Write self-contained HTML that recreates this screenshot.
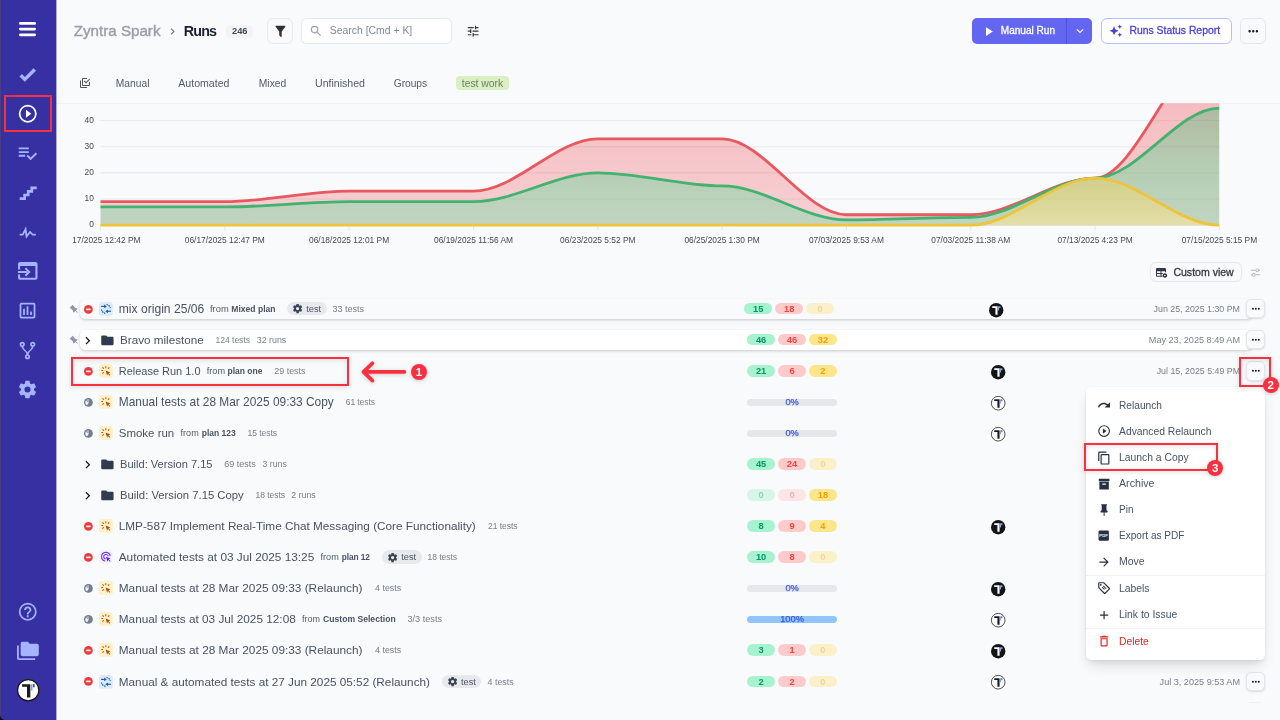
<!DOCTYPE html>
<html lang="en"><head><meta charset="utf-8"><title>Runs - Zyntra Spark</title>
<style>
html,body{margin:0;padding:0}
body{width:1280px;height:720px;overflow:hidden;position:relative;background:#f9fafb;font-family:"Liberation Sans",sans-serif;color:#374151}
.t{position:absolute;white-space:nowrap}
svg{display:block;overflow:visible}
</style></head><body>
<div style="position:absolute;left:0.00px;top:0.00px;width:56.00px;height:720.00px;box-sizing:border-box;background:#3730a3;"></div>
<div style="position:absolute;left:0.00px;top:0.00px;width:1.00px;height:720.00px;box-sizing:border-box;background:#453f88;"></div>
<svg style="position:absolute;left:0;top:714px" width="6" height="6" viewBox="0 0 6 6"><path d="M0,0.6V6H5.4A5.4,5.4 0 0,1 0,0.6Z" fill="#0b0b0d"/></svg>
<svg style="position:absolute;left:19.1px;top:22.3px" width="17" height="15" viewBox="0 0 17 15"><g fill="#fff"><rect x="0" y="0" width="17" height="2.75" rx="1.37"/><rect x="0" y="5.7" width="17" height="2.75" rx="1.37"/><rect x="0" y="11.4" width="17" height="2.75" rx="1.37"/></g></svg>
<svg style="position:absolute;left:17.20px;top:64.00px;" width="21.00" height="21.00" viewBox="0 0 24 24"><path fill="#a5b4fc" d="M9,20.42L2.79,14.21L5.62,11.38L9,14.77L18.88,4.88L21.71,7.71L9,20.42Z"/></svg>
<svg style="position:absolute;left:16.95px;top:102.75px;" width="21.50" height="21.50" viewBox="0 0 24 24"><path fill="#fff" d="M12,20C7.59,20 4,16.41 4,12C4,7.59 7.59,4 12,4C16.41,4 20,7.59 20,12C20,16.41 16.41,20 12,20M12,2A10,10 0 0,0 2,12A10,10 0 0,0 12,22A10,10 0 0,0 22,12A10,10 0 0,0 12,2M10,16.5L16,12L10,7.5V16.5Z"/></svg>
<svg style="position:absolute;left:16.20px;top:142.20px;" width="22.00" height="22.00" viewBox="0 0 24 24"><path fill="#a5b4fc" d="M14,10H3V12H14V10M14,6H3V8H14V6M3,16H10V14H3V16M21.5,11.5L23,13L16,20L11.5,15.5L13,14L16,17L21.5,11.5Z"/></svg>
<svg style="position:absolute;left:16.75px;top:182.25px;" width="21.50" height="21.50" viewBox="0 0 24 24"><path fill="#a5b4fc" d="M15,5V9H11V13H7V17H3V20H10V16H14V12H18V8H22V5H15Z"/></svg>
<svg style="position:absolute;left:16.75px;top:221.75px;" width="21.50" height="21.50" viewBox="0 0 24 24"><path fill="#a5b4fc" d="M3,13H5.79L10.1,4.79L11.28,13.75L14.5,9.66L17.83,13H21V15H17L14.67,12.67L9.92,18.73L8.94,11.31L7,15H3V13Z"/></svg>
<svg style="position:absolute;left:17.7px;top:262.2px" width="19.5" height="17.8" viewBox="0 0 19.5 17.8"><path fill="#a5b4fc" d="M2,0H17.5A2,2 0 0,1 19.5,2V15.8A2,2 0 0,1 17.5,17.8H2A2,2 0 0,1 0,15.8V12.4H2.1V15.7H17.4V4H2.1V7.4H0V2A2,2 0 0,1 2,0Z M0,8.9H9.5V10.9H0Z"/><path fill="none" stroke="#a5b4fc" stroke-width="2" d="M7.4,6.1L11.2,9.9L7.4,13.7"/></svg>
<svg style="position:absolute;left:17.00px;top:300.10px;" width="21.00" height="21.00" viewBox="0 0 24 24"><path fill="#a5b4fc" d="M9,17H7V10H9V17M13,17H11V7H13V17M17,17H15V13H17V17M19,19H5V5H19V19.1M19,3H5A2,2 0 0,0 3,5V19A2,2 0 0,0 5,21H19A2,2 0 0,0 21,19V5A2,2 0 0,0 19,3Z"/></svg>
<svg style="position:absolute;left:17.00px;top:339.50px;" width="21.00" height="21.00" viewBox="0 0 24 24"><path fill="#a5b4fc" d="M6,2A3,3 0 0,1 9,5C9,6.28 8.19,7.38 7.06,7.81C7.15,8.27 7.39,8.83 8,9.63C9,10.92 11,12.83 12,14.17C13,12.83 15,10.92 16,9.63C16.61,8.83 16.85,8.27 16.94,7.81C15.81,7.38 15,6.28 15,5A3,3 0 0,1 18,2A3,3 0 0,1 21,5C21,6.32 20.14,7.45 18.95,7.85C18.87,8.37 18.64,9 18,9.83C17,11.17 15,13.08 14,14.38C13.39,15.17 13.15,15.73 13.06,16.19C14.19,16.62 15,17.72 15,19A3,3 0 0,1 12,22A3,3 0 0,1 9,19C9,17.72 9.81,16.62 10.94,16.19C10.85,15.73 10.61,15.17 10,14.38C9,13.08 7,11.17 6,9.83C5.36,9 5.13,8.37 5.05,7.85C3.86,7.45 3,6.32 3,5A3,3 0 0,1 6,2M6,4A1,1 0 0,0 5,5A1,1 0 0,0 6,6A1,1 0 0,0 7,5A1,1 0 0,0 6,4M18,4A1,1 0 0,0 17,5A1,1 0 0,0 18,6A1,1 0 0,0 19,5A1,1 0 0,0 18,4M12,18A1,1 0 0,0 11,19A1,1 0 0,0 12,20A1,1 0 0,0 13,19A1,1 0 0,0 12,18Z"/></svg>
<svg style="position:absolute;left:17.20px;top:378.80px;" width="21.00" height="21.00" viewBox="0 0 24 24"><path fill="#a5b4fc" d="M12,15.5A3.5,3.5 0 0,1 8.5,12A3.5,3.5 0 0,1 12,8.5A3.5,3.5 0 0,1 15.5,12A3.5,3.5 0 0,1 12,15.5M19.43,12.97C19.47,12.65 19.5,12.33 19.5,12C19.5,11.67 19.47,11.34 19.43,11L21.54,9.37C21.73,9.22 21.78,8.95 21.66,8.73L19.66,5.27C19.54,5.05 19.27,4.96 19.05,5.05L16.56,6.05C16.04,5.66 15.5,5.32 14.87,5.07L14.5,2.42C14.46,2.18 14.25,2 14,2H10C9.75,2 9.54,2.18 9.5,2.42L9.13,5.07C8.5,5.32 7.96,5.66 7.44,6.05L4.95,5.05C4.73,4.96 4.46,5.05 4.34,5.27L2.34,8.73C2.21,8.95 2.27,9.22 2.46,9.37L4.57,11C4.53,11.34 4.5,11.67 4.5,12C4.5,12.33 4.53,12.65 4.57,12.97L2.46,14.63C2.27,14.78 2.21,15.05 2.34,15.27L4.34,18.73C4.46,18.95 4.73,19.03 4.95,18.95L7.44,17.94C7.96,18.34 8.5,18.68 9.13,18.93L9.5,21.58C9.54,21.82 9.75,22 10,22H14C14.25,22 14.46,21.82 14.5,21.58L14.87,18.93C15.5,18.67 16.04,18.34 16.56,17.94L19.05,18.95C19.27,19.03 19.54,18.95 19.66,18.73L21.66,15.27C21.78,15.05 21.73,14.78 21.54,14.63L19.43,12.97Z"/></svg>
<svg style="position:absolute;left:16.75px;top:601.25px;" width="21.50" height="21.50" viewBox="0 0 24 24"><path fill="#a5b4fc" d="M11,18H13V16H11V18M12,2A10,10 0 0,0 2,12A10,10 0 0,0 12,22A10,10 0 0,0 22,12A10,10 0 0,0 12,2M12,20C7.59,20 4,16.41 4,12C4,7.59 7.59,4 12,4C16.41,4 20,7.59 20,12C20,16.41 16.41,20 12,20M12,6A4,4 0 0,0 8,10H10A2,2 0 0,1 12,8A2,2 0 0,1 14,10C14,12 11,11.75 11,15H13C13,12.75 16,12.5 16,10A4,4 0 0,0 12,6Z"/></svg>
<svg style="position:absolute;left:16.60px;top:640.10px;" width="21.80" height="21.80" viewBox="0 0 24 24"><path fill="#a5b4fc" d="M22,4H14L12,2H6A2,2 0 0,0 4,4V16A2,2 0 0,0 6,18H22A2,2 0 0,0 24,16V6A2,2 0 0,0 22,4M2,6H0V11H0V20A2,2 0 0,0 2,22H20V20H2V6Z"/></svg>
<svg style="position:absolute;left:17.10px;top:679.20px" width="22.40" height="22.40" viewBox="0 0 24 24"><circle cx="12" cy="12" r="11.40" fill="#fff" stroke="#141414" stroke-width="1.25"/><path fill="#1c1c1c" d="M5.4,5.6H14.3V19.8H10.7V8.4H5.4Z"/><path fill="#7da7f5" d="M14.8,5.6H16.7V12.4H14.8Z"/><path fill="#1c1c1c" d="M17.4,5.6H18.8V8.8H17.4Z"/></svg>
<div style="position:absolute;left:3.50px;top:95.20px;width:48.50px;height:36.70px;box-sizing:border-box;border:2.1px solid #f8303f;"></div>
<span class="t" style="left:73.75px;top:18px;line-height:25px;height:25px;font-size:15.17px;font-weight:400;color:#999fab;letter-spacing:-0.001px;-webkit-text-stroke-width:.4px;">Zyntra Spark</span>
<svg style="position:absolute;left:165.50px;top:24.80px;" width="13.00" height="13.00" viewBox="0 0 24 24"><path fill="#6b7280" d="M8.59,16.58L13.17,12L8.59,7.41L10,6L16,12L10,18L8.59,16.58Z"/></svg>
<span class="t" style="left:183.75px;top:19px;line-height:24px;height:24px;font-size:14.30px;font-weight:700;color:#1a2130;letter-spacing:-0.833px;">Runs</span>
<div style="position:absolute;left:226.00px;top:24.50px;width:27.00px;height:13.00px;box-sizing:border-box;background:#f3f4f6;border-radius:4px;"></div>
<span class="t" style="left:232.00px;top:22px;line-height:18px;height:18px;font-size:9.29px;font-weight:700;color:#3f4858;letter-spacing:0.000px;">246</span>
<div style="position:absolute;left:267.30px;top:18.10px;width:25.30px;height:25.70px;box-sizing:border-box;background:#fafafa;border:1px solid #e9eaed;border-radius:6px;"></div>
<svg style="position:absolute;left:272.50px;top:23.75px;" width="14.90" height="14.90" viewBox="0 0 24 24"><path fill="#2f3136" d="M14,12V19.88C14.04,20.18 13.94,20.5 13.71,20.71C13.32,21.1 12.69,21.1 12.3,20.71L10.29,18.7C10.06,18.47 9.96,18.16 10,17.87V12H9.97L4.21,4.62C3.87,4.19 3.95,3.56 4.38,3.22C4.57,3.08 4.78,3 5,3H19C19.22,3 19.43,3.08 19.62,3.22C20.05,3.56 20.13,4.19 19.79,4.62L14.03,12H14Z"/></svg>
<div style="position:absolute;left:301.10px;top:18.20px;width:150.60px;height:25.80px;box-sizing:border-box;background:#fff;border:1px solid #e6e8ec;border-radius:5.5px;"></div>
<svg style="position:absolute;left:309.30px;top:23.95px;" width="14.10" height="14.10" viewBox="0 0 24 24"><path fill="#9ca3af" d="M9.5,3A6.5,6.5 0 0,1 16,9.5C16,11.11 15.41,12.59 14.44,13.73L14.71,14H15.5L20.5,19L19,20.5L14,15.5V14.71L13.73,14.44C12.59,15.41 11.11,16 9.5,16A6.5,6.5 0 0,1 3,9.5A6.5,6.5 0 0,1 9.5,3M9.5,5C7,5 5,7 5,9.5C5,12 7,14 9.5,14C12,14 14,12 14,9.5C14,7 12,5 9.5,5Z"/></svg>
<span class="t" style="left:329.75px;top:21px;line-height:19px;height:19px;font-size:10.42px;font-weight:400;color:#808796;letter-spacing:0.005px;">Search [Cmd + K]</span>
<svg style="position:absolute;left:465.60px;top:24.05px;" width="14.30" height="14.30" viewBox="0 0 24 24"><path fill="#333539" d="M3,17V19H9V17H3M3,5V7H13V5H3M13,21V19H21V17H13V15H11V21H13M7,9V11H3V13H7V15H9V9H7M21,13V11H11V13H21M15,9H17V7H21V5H17V3H15V9Z"/></svg>
<div style="position:absolute;left:971.80px;top:18.30px;width:120.70px;height:25.50px;box-sizing:border-box;background:#6366f1;border-radius:5px;"></div>
<div style="position:absolute;left:1066.00px;top:18.30px;width:1.00px;height:25.50px;box-sizing:border-box;background:#4f51d8;"></div>
<svg style="position:absolute;left:980.80px;top:23.70px;" width="15.00" height="15.00" viewBox="0 0 24 24"><path fill="#fff" d="M8,5.14V19.14L19,12.14L8,5.14Z"/></svg>
<span class="t" style="left:1000.75px;top:21px;line-height:19px;height:19px;font-size:10.06px;font-weight:400;color:#fff;letter-spacing:0.007px;-webkit-text-stroke-width:.3px;">Manual Run</span>
<svg style="position:absolute;left:1072.80px;top:24.30px;" width="14.00" height="14.00" viewBox="0 0 24 24"><path fill="#fff" d="M7.41,8.58L12,13.17L16.59,8.58L18,10L12,16L6,10L7.41,8.58Z"/></svg>
<div style="position:absolute;left:1100.50px;top:18.30px;width:131.30px;height:25.50px;box-sizing:border-box;background:#fff;border:1px solid #b9bff9;border-radius:6px;"></div>
<svg style="position:absolute;left:1109.40px;top:24.40px;" width="13.60" height="13.60" viewBox="0 0 24 24"><path fill="#4a42d6" d="M19,1L17.74,3.75L15,5L17.74,6.26L19,9L20.25,6.26L23,5L20.25,3.75M9,4L6.5,9.5L1,12L6.5,14.5L9,20L11.5,14.5L17,12L11.5,9.5M19,15L17.74,17.74L15,19L17.74,20.25L19,23L20.25,20.25L23,19L20.25,17.74"/></svg>
<span class="t" style="left:1129.50px;top:21px;line-height:19px;height:19px;font-size:10.37px;font-weight:400;color:#4a42d6;letter-spacing:0.006px;-webkit-text-stroke-width:.3px;">Runs Status Report</span>
<div style="position:absolute;left:1240.00px;top:18.30px;width:25.50px;height:25.50px;box-sizing:border-box;background:#f9fafb;border:1px solid #e5e7eb;border-radius:6px;"></div>
<svg style="position:absolute;left:1245.65px;top:23.95px;" width="14.50" height="14.50" viewBox="0 0 24 24"><path fill="#16191f" d="M16,12A2,2 0 0,1 18,10A2,2 0 0,1 20,12A2,2 0 0,1 18,14A2,2 0 0,1 16,12M10,12A2,2 0 0,1 12,10A2,2 0 0,1 14,12A2,2 0 0,1 12,14A2,2 0 0,1 10,12M4,12A2,2 0 0,1 6,10A2,2 0 0,1 8,12A2,2 0 0,1 6,14A2,2 0 0,1 4,12Z"/></svg>
<svg style="position:absolute;left:78.90px;top:77.35px;" width="12.00" height="12.00" viewBox="0 0 24 24"><path fill="#50555d" d="M20,16V10H22V16A2,2 0 0,1 20,18H8C6.89,18 6,17.1 6,16V4C6,2.89 6.89,2 8,2H16V4H8V16H20M10.91,7.08L14,10.17L20.59,3.58L22,5L14,13L9.5,8.5L10.91,7.08M16,20V22H4A2,2 0 0,1 2,20V7H4V20H16Z"/></svg>
<span class="t" style="left:115.75px;top:74px;line-height:19px;height:19px;font-size:10.29px;font-weight:400;color:#515b6a;letter-spacing:0.003px;">Manual</span>
<span class="t" style="left:178.25px;top:73px;line-height:20px;height:20px;font-size:10.60px;font-weight:400;color:#515b6a;letter-spacing:0.000px;">Automated</span>
<span class="t" style="left:258.75px;top:74px;line-height:19px;height:19px;font-size:10.31px;font-weight:400;color:#515b6a;letter-spacing:0.008px;">Mixed</span>
<span class="t" style="left:315.00px;top:73px;line-height:20px;height:20px;font-size:10.58px;font-weight:400;color:#515b6a;letter-spacing:0.002px;">Unfinished</span>
<span class="t" style="left:393.75px;top:74px;line-height:19px;height:19px;font-size:10.23px;font-weight:400;color:#515b6a;letter-spacing:-0.053px;">Groups</span>
<div style="position:absolute;left:455.75px;top:76.20px;width:53.00px;height:14.30px;box-sizing:border-box;background:#d9f0c3;border-radius:4px;"></div>
<span class="t" style="left:461.75px;top:74px;line-height:19px;height:19px;font-size:10.37px;font-weight:400;color:#6e7f68;letter-spacing:0.006px;">test work</span>
<div style="position:absolute;left:56.00px;top:103.00px;width:1224.00px;height:1.00px;box-sizing:border-box;background:#f1f2f4;"></div>
<svg style="position:absolute;left:0;top:100px" width="1280" height="155" viewBox="0 100 1280 155"><defs><linearGradient id="gr" gradientUnits="userSpaceOnUse" x1="0" y1="100" x2="0" y2="226"><stop offset="0" stop-color="#ee4650" stop-opacity=".345"/><stop offset="1" stop-color="#ee4650" stop-opacity=".23"/></linearGradient><linearGradient id="gg" gradientUnits="userSpaceOnUse" x1="0" y1="108" x2="0" y2="226"><stop offset="0" stop-color="#41b36f" stop-opacity=".38"/><stop offset=".5" stop-color="#55d791" stop-opacity=".40"/><stop offset="1" stop-color="#6fdca5" stop-opacity=".40"/></linearGradient><linearGradient id="gy" gradientUnits="userSpaceOnUse" x1="0" y1="178" x2="0" y2="226"><stop offset="0" stop-color="#ffd246" stop-opacity=".36"/><stop offset="1" stop-color="#ffe696" stop-opacity=".55"/></linearGradient><clipPath id="cc"><rect x="96" y="103.3" width="1123.5" height="124"/></clipPath></defs><line x1="100.5" x2="1219.4" y1="225.20" y2="225.20" stroke="#e7e9ec" stroke-width="1"/><line x1="100.5" x2="1219.4" y1="199.05" y2="199.05" stroke="#e7e9ec" stroke-width="1"/><line x1="100.5" x2="1219.4" y1="172.90" y2="172.90" stroke="#e7e9ec" stroke-width="1"/><line x1="100.5" x2="1219.4" y1="146.75" y2="146.75" stroke="#e7e9ec" stroke-width="1"/><line x1="100.5" x2="1219.4" y1="120.60" y2="120.60" stroke="#e7e9ec" stroke-width="1"/><line x1="100.5" x2="100.5" y1="226" y2="230.5" stroke="#e3e5e8" stroke-width="1"/><line x1="224.8" x2="224.8" y1="226" y2="230.5" stroke="#e3e5e8" stroke-width="1"/><line x1="349.1" x2="349.1" y1="226" y2="230.5" stroke="#e3e5e8" stroke-width="1"/><line x1="473.5" x2="473.5" y1="226" y2="230.5" stroke="#e3e5e8" stroke-width="1"/><line x1="597.8" x2="597.8" y1="226" y2="230.5" stroke="#e3e5e8" stroke-width="1"/><line x1="722.1" x2="722.1" y1="226" y2="230.5" stroke="#e3e5e8" stroke-width="1"/><line x1="846.4" x2="846.4" y1="226" y2="230.5" stroke="#e3e5e8" stroke-width="1"/><line x1="970.8" x2="970.8" y1="226" y2="230.5" stroke="#e3e5e8" stroke-width="1"/><line x1="1095.1" x2="1095.1" y1="226" y2="230.5" stroke="#e3e5e8" stroke-width="1"/><line x1="1219.4" x2="1219.4" y1="226" y2="230.5" stroke="#e3e5e8" stroke-width="1"/><g clip-path="url(#cc)"><path d="M100.50,201.66 C141.94,201.66 183.38,201.66 224.82,201.66 C266.26,201.66 307.70,191.20 349.14,191.20 C390.59,191.20 432.03,191.20 473.47,191.20 C514.91,191.20 556.35,138.90 597.79,138.90 C639.23,138.90 680.67,138.90 722.11,138.90 C763.55,138.90 804.99,214.74 846.43,214.74 C887.87,214.74 929.31,214.74 970.76,214.74 C1012.20,214.74 1053.64,178.13 1095.08,178.13 C1136.52,178.13 1177.96,44.76 1219.40,44.76 L1219.40,225.2 L100.50,225.2 Z" fill="url(#gr)"/><path d="M100.50,201.66 C141.94,201.66 183.38,201.66 224.82,201.66 C266.26,201.66 307.70,191.20 349.14,191.20 C390.59,191.20 432.03,191.20 473.47,191.20 C514.91,191.20 556.35,138.90 597.79,138.90 C639.23,138.90 680.67,138.90 722.11,138.90 C763.55,138.90 804.99,214.74 846.43,214.74 C887.87,214.74 929.31,214.74 970.76,214.74 C1012.20,214.74 1053.64,178.13 1095.08,178.13 C1136.52,178.13 1177.96,44.76 1219.40,44.76" fill="none" stroke="#e65a5f" stroke-width="2.8" stroke-linecap="butt"/><path d="M100.50,206.89 C141.94,206.89 183.38,206.89 224.82,206.89 C266.26,206.89 307.70,201.66 349.14,201.66 C390.59,201.66 432.03,201.66 473.47,201.66 C514.91,201.66 556.35,172.90 597.79,172.90 C639.23,172.90 680.67,185.97 722.11,185.97 C763.55,185.97 804.99,219.97 846.43,219.97 C887.87,219.97 929.31,217.35 970.76,217.35 C1012.20,217.35 1053.64,178.13 1095.08,178.13 C1136.52,178.13 1177.96,108.05 1219.40,108.05 L1219.40,225.2 L100.50,225.2 Z" fill="url(#gg)"/><path d="M100.50,206.89 C141.94,206.89 183.38,206.89 224.82,206.89 C266.26,206.89 307.70,201.66 349.14,201.66 C390.59,201.66 432.03,201.66 473.47,201.66 C514.91,201.66 556.35,172.90 597.79,172.90 C639.23,172.90 680.67,185.97 722.11,185.97 C763.55,185.97 804.99,219.97 846.43,219.97 C887.87,219.97 929.31,217.35 970.76,217.35 C1012.20,217.35 1053.64,178.13 1095.08,178.13 C1136.52,178.13 1177.96,108.05 1219.40,108.05" fill="none" stroke="#41b36f" stroke-width="2.8" stroke-linecap="butt"/><path d="M100.50,225.20 C141.94,225.20 183.38,225.20 224.82,225.20 C266.26,225.20 307.70,225.20 349.14,225.20 C390.59,225.20 432.03,225.20 473.47,225.20 C514.91,225.20 556.35,225.20 597.79,225.20 C639.23,225.20 680.67,225.20 722.11,225.20 C763.55,225.20 804.99,225.20 846.43,225.20 C887.87,225.20 929.31,225.20 970.76,225.20 C1012.20,225.20 1053.64,178.13 1095.08,178.13 C1136.52,178.13 1177.96,225.20 1219.40,225.20 L1219.40,225.2 L100.50,225.2 Z" fill="url(#gy)"/><path d="M100.50,225.20 C141.94,225.20 183.38,225.20 224.82,225.20 C266.26,225.20 307.70,225.20 349.14,225.20 C390.59,225.20 432.03,225.20 473.47,225.20 C514.91,225.20 556.35,225.20 597.79,225.20 C639.23,225.20 680.67,225.20 722.11,225.20 C763.55,225.20 804.99,225.20 846.43,225.20 C887.87,225.20 929.31,225.20 970.76,225.20 C1012.20,225.20 1053.64,178.13 1095.08,178.13 C1136.52,178.13 1177.96,225.20 1219.40,225.20" fill="none" stroke="#efc43c" stroke-width="2.8" stroke-linecap="butt"/></g><g font-family="Liberation Sans, sans-serif" font-size="8.4" fill="#464b4e"><text x="93.8" y="227" text-anchor="end">0</text><text x="93.8" y="201" text-anchor="end">10</text><text x="93.8" y="175" text-anchor="end">20</text><text x="93.8" y="149" text-anchor="end">30</text><text x="93.8" y="123" text-anchor="end">40</text><text x="100.5" y="243.2" text-anchor="middle">06/17/2025 12:42 PM</text><text x="224.8" y="243.2" text-anchor="middle">06/17/2025 12:47 PM</text><text x="349.1" y="243.2" text-anchor="middle">06/18/2025 12:01 PM</text><text x="473.5" y="243.2" text-anchor="middle">06/19/2025 11:56 AM</text><text x="597.8" y="243.2" text-anchor="middle">06/23/2025 5:52 PM</text><text x="722.1" y="243.2" text-anchor="middle">06/25/2025 1:30 PM</text><text x="846.4" y="243.2" text-anchor="middle">07/03/2025 9:53 AM</text><text x="970.8" y="243.2" text-anchor="middle">07/03/2025 11:38 AM</text><text x="1095.1" y="243.2" text-anchor="middle">07/13/2025 4:23 PM</text><text x="1219.4" y="243.2" text-anchor="middle">07/15/2025 5:15 PM</text></g></svg>
<div style="position:absolute;left:56.00px;top:232.00px;width:16.50px;height:18.00px;box-sizing:border-box;background:#f9fafb;"></div>
<div style="position:absolute;left:1150.40px;top:262.00px;width:92.10px;height:20.00px;box-sizing:border-box;background:#f9fafb;border:1px solid #e5e7eb;border-radius:6px;"></div>
<svg style="position:absolute;left:1156.2px;top:267.7px" width="11.2" height="9.8" viewBox="0 0 22.4 19.6"><path fill="#303846" fill-rule="evenodd" d="M2,0H18A2,2 0 0,1 20,2V8.5H18V6.5H11V10H13.5V12H11V15.5H13V17.5H2A2,2 0 0,1 0,15.5V2A2,2 0 0,1 2,0ZM2,6.5V10H9V6.5ZM2,12V15.5H9V12Z"/><circle cx="17.8" cy="15" r="4.5" fill="#303846"/><circle cx="17.8" cy="15" r="1.5" fill="#f9fafb"/></svg>
<span class="t" style="left:1173.40px;top:262px;line-height:20px;height:20px;font-size:10.55px;font-weight:400;color:#333b47;letter-spacing:-0.003px;-webkit-text-stroke-width:.3px;">Custom view</span>
<svg style="position:absolute;left:1250.10px;top:266.70px;" width="11.00" height="11.00" viewBox="0 0 24 24"><path fill="#b4b9c1" d="M8 13C6.14 13 4.59 14.28 4.14 16H2V18H4.14C4.59 19.72 6.14 21 8 21S11.41 19.72 11.86 18H22V16H11.86C11.41 14.28 9.86 13 8 13M8 19C6.9 19 6 18.1 6 17C6 15.9 6.9 15 8 15S10 15.9 10 17C10 18.1 9.1 19 8 19M19.86 6C19.41 4.28 17.86 3 16 3S12.59 4.28 12.14 6H2V8H12.14C12.59 9.72 14.14 11 16 11S19.41 9.72 19.86 8H22V6H19.86M16 9C14.9 9 14 8.1 14 7C14 5.9 14.9 5 16 5S18 5.9 18 7C18 8.1 17.1 9 16 9Z"/></svg>
<div style="position:absolute;left:80.00px;top:299.30px;width:1172.00px;height:19.70px;box-sizing:border-box;background:#f9fafb;border-radius:5px;box-shadow:0 1px 2.5px rgba(0,0,0,.13),0 2px 4px -1px rgba(0,0,0,.08);"></div>
<div style="position:absolute;left:80.00px;top:330.00px;width:1172.00px;height:19.60px;box-sizing:border-box;background:#fff;border-radius:5px;box-shadow:0 1px 2.5px rgba(0,0,0,.13),0 2px 4px -1px rgba(0,0,0,.08);"></div>
<svg style="position:absolute;left:68.50px;top:303.50px;transform:rotate(-45deg);" width="10.80" height="10.80" viewBox="0 0 24 24"><path fill="#8d97a9" d="M16,12V4H17V2H7V4H8V12L6,14V16H11.2V22H12.8V16H18V14L16,12Z"/></svg><svg style="position:absolute;left:83.50px;top:304.50px" width="8.8" height="8.8" viewBox="0 0 20 20"><circle cx="10" cy="10" r="10" fill="#ec3b40"/><rect x="4.6" y="8.1" width="10.8" height="3.8" rx="1" fill="#fde3e3"/></svg><svg style="position:absolute;left:98.70px;top:302.00px" width="13.8" height="13.8" viewBox="0 0 14 14"><rect width="14" height="14" rx="3.2" fill="#dbeafd"/><g stroke="#1d5ea8" stroke-width="1.15" fill="none" stroke-linecap="butt"><path d="M2.1,4.5H6.4"/><path d="M12.2,9.4H7.9"/><path d="M7.6,2.5A4.6,4.6 0 0,1 11.5,6.3" stroke-dasharray="1.5 .8"/><path d="M6.6,11.4A4.6,4.6 0 0,1 2.5,7.6" stroke-dasharray="1.5 .8"/></g><path fill="#1d5ea8" d="M5.2,2.6L7.9,4.5L5.2,6.4Z M9.1,7.5L6.4,9.4L9.1,11.3Z"/></svg><span class="t" style="left:118.75px;top:298px;line-height:22px;height:22px;font-size:12.09px;font-weight:400;color:#485264;letter-spacing:0.016px;">mix origin 25/06</span><span class="t" style="left:210.00px;top:299px;line-height:19px;height:19px;font-size:9.39px;font-weight:400;color:#515b6a;letter-spacing:0.000px;">from</span><span class="t" style="left:231.25px;top:300px;line-height:18px;height:18px;font-size:8.56px;font-weight:700;color:#485264;letter-spacing:0.009px;">Mixed plan</span><div style="position:absolute;left:287.00px;top:302.10px;width:39.50px;height:13.30px;box-sizing:border-box;background:#e7e9ed;border-radius:7px;"></div><svg style="position:absolute;left:292.30px;top:303.30px;" width="11.20" height="11.20" viewBox="0 0 24 24"><path fill="#3a4352" d="M12,15.5A3.5,3.5 0 0,1 8.5,12A3.5,3.5 0 0,1 12,8.5A3.5,3.5 0 0,1 15.5,12A3.5,3.5 0 0,1 12,15.5M19.43,12.97C19.47,12.65 19.5,12.33 19.5,12C19.5,11.67 19.47,11.34 19.43,11L21.54,9.37C21.73,9.22 21.78,8.95 21.66,8.73L19.66,5.27C19.54,5.05 19.27,4.96 19.05,5.05L16.56,6.05C16.04,5.66 15.5,5.32 14.87,5.07L14.5,2.42C14.46,2.18 14.25,2 14,2H10C9.75,2 9.54,2.18 9.5,2.42L9.13,5.07C8.5,5.32 7.96,5.66 7.44,6.05L4.95,5.05C4.73,4.96 4.46,5.05 4.34,5.27L2.34,8.73C2.21,8.95 2.27,9.22 2.46,9.37L4.57,11C4.53,11.34 4.5,11.67 4.5,12C4.5,12.33 4.53,12.65 4.57,12.97L2.46,14.63C2.27,14.78 2.21,15.05 2.34,15.27L4.34,18.73C4.46,18.95 4.73,19.03 4.95,18.95L7.44,17.94C7.96,18.34 8.5,18.68 9.13,18.93L9.5,21.58C9.54,21.82 9.75,22 10,22H14C14.25,22 14.46,21.82 14.5,21.58L14.87,18.93C15.5,18.67 16.04,18.34 16.56,17.94L19.05,18.95C19.27,19.03 19.54,18.95 19.66,18.73L21.66,15.27C21.78,15.05 21.73,14.78 21.54,14.63L19.43,12.97Z"/></svg><span class="t" style="left:306.25px;top:300px;line-height:18px;height:18px;font-size:9.22px;font-weight:400;color:#4b5563;letter-spacing:-0.003px;">test</span><span class="t" style="left:332.50px;top:300px;line-height:18px;height:18px;font-size:9.00px;font-weight:400;color:#78808e;letter-spacing:-0.004px;">33 tests</span><div style="position:absolute;left:744.20px;top:303.00px;width:28.20px;height:11.40px;box-sizing:border-box;background:#a7f3d0;border-radius:6px;"><span style="position:absolute;left:0;right:0;top:-4.3px;line-height:20px;text-align:center;font-size:9.3px;font-weight:700;color:#059669;">15</span></div><div style="position:absolute;left:775.10px;top:303.00px;width:28.20px;height:11.40px;box-sizing:border-box;background:#fecaca;border-radius:6px;"><span style="position:absolute;left:0;right:0;top:-4.3px;line-height:20px;text-align:center;font-size:9.3px;font-weight:700;color:#ef4444;">18</span></div><div style="position:absolute;left:806.00px;top:303.00px;width:28.20px;height:11.40px;box-sizing:border-box;background:#fde68a;border-radius:6px;opacity:.42;"><span style="position:absolute;left:0;right:0;top:-4.3px;line-height:20px;text-align:center;font-size:9.3px;font-weight:700;color:#f59e0b;">0</span></div><svg style="position:absolute;left:988.50px;top:302.50px" width="14.40" height="14.40" viewBox="0 0 24 24"><circle cx="12" cy="12" r="12.00" fill="#141414" /><path fill="#fff" d="M5.4,5.6H14.3V19.8H10.7V8.4H5.4Z"/><path fill="#7da7f5" d="M14.8,5.6H16.7V12.4H14.8Z"/><path fill="#fff" d="M17.4,5.6H18.8V8.8H17.4Z"/></svg><span class="t" style="left:1153.60px;top:300px;line-height:18px;height:18px;font-size:8.83px;font-weight:400;color:#78808e;letter-spacing:0.000px;">Jun 25, 2025 1:30 PM</span><div style="position:absolute;left:1245.50px;top:299.00px;width:19.80px;height:19.30px;box-sizing:border-box;background:#f9fafb;border:1px solid #e4e6ea;border-radius:5px;box-shadow:0 1px 2.5px rgba(0,0,0,.09),0 1px 1.5px rgba(0,0,0,.04);"></div><svg style="position:absolute;left:1249.60px;top:302.95px;" width="11.70" height="11.70" viewBox="0 0 24 24"><path fill="#16191f" d="M16,12A2,2 0 0,1 18,10A2,2 0 0,1 20,12A2,2 0 0,1 18,14A2,2 0 0,1 16,12M10,12A2,2 0 0,1 12,10A2,2 0 0,1 14,12A2,2 0 0,1 12,14A2,2 0 0,1 10,12M4,12A2,2 0 0,1 6,10A2,2 0 0,1 8,12A2,2 0 0,1 6,14A2,2 0 0,1 4,12Z"/></svg>
<svg style="position:absolute;left:68.50px;top:334.50px;transform:rotate(-45deg);" width="10.80" height="10.80" viewBox="0 0 24 24"><path fill="#8d97a9" d="M16,12V4H17V2H7V4H8V12L6,14V16H11.2V22H12.8V16H18V14L16,12Z"/></svg><svg style="position:absolute;left:79.90px;top:333.00px;" width="15.40" height="15.40" viewBox="0 0 24 24"><path fill="#15181e" d="M8.59,16.58L13.17,12L8.59,7.41L10,6L16,12L10,18L8.59,16.58Z"/></svg><svg style="position:absolute;left:99.60px;top:332.60px;" width="14.80" height="14.80" viewBox="0 0 24 24"><path fill="#323c50" d="M10,4H4C2.89,4 2,4.89 2,6V18A2,2 0 0,0 4,20H20A2,2 0 0,0 22,18V8C22,6.89 21.1,6 20,6H12L10,4Z"/></svg><span class="t" style="left:120.00px;top:329px;line-height:21px;height:21px;font-size:11.68px;font-weight:400;color:#485264;letter-spacing:0.004px;">Bravo milestone</span><span class="t" style="left:215.50px;top:331px;line-height:18px;height:18px;font-size:8.56px;font-weight:400;color:#78808e;letter-spacing:-0.023px;">124 tests</span><span class="t" style="left:256.75px;top:331px;line-height:18px;height:18px;font-size:8.85px;font-weight:400;color:#78808e;letter-spacing:0.000px;">32 runs</span><div style="position:absolute;left:747.00px;top:334.00px;width:28.20px;height:11.40px;box-sizing:border-box;background:#a7f3d0;border-radius:6px;"><span style="position:absolute;left:0;right:0;top:-4.3px;line-height:20px;text-align:center;font-size:9.3px;font-weight:700;color:#059669;">46</span></div><div style="position:absolute;left:777.90px;top:334.00px;width:28.20px;height:11.40px;box-sizing:border-box;background:#fecaca;border-radius:6px;"><span style="position:absolute;left:0;right:0;top:-4.3px;line-height:20px;text-align:center;font-size:9.3px;font-weight:700;color:#ef4444;">46</span></div><div style="position:absolute;left:808.80px;top:334.00px;width:28.20px;height:11.40px;box-sizing:border-box;background:#fde68a;border-radius:6px;"><span style="position:absolute;left:0;right:0;top:-4.3px;line-height:20px;text-align:center;font-size:9.3px;font-weight:700;color:#f59e0b;">32</span></div><span class="t" style="left:1148.80px;top:331px;line-height:18px;height:18px;font-size:9.11px;font-weight:400;color:#78808e;letter-spacing:0.011px;">May 23, 2025 8:49 AM</span><div style="position:absolute;left:1245.50px;top:330.00px;width:19.80px;height:19.30px;box-sizing:border-box;background:#f9fafb;border:1px solid #e4e6ea;border-radius:5px;box-shadow:0 1px 2.5px rgba(0,0,0,.09),0 1px 1.5px rgba(0,0,0,.04);"></div><svg style="position:absolute;left:1249.60px;top:333.95px;" width="11.70" height="11.70" viewBox="0 0 24 24"><path fill="#16191f" d="M16,12A2,2 0 0,1 18,10A2,2 0 0,1 20,12A2,2 0 0,1 18,14A2,2 0 0,1 16,12M10,12A2,2 0 0,1 12,10A2,2 0 0,1 14,12A2,2 0 0,1 12,14A2,2 0 0,1 10,12M4,12A2,2 0 0,1 6,10A2,2 0 0,1 8,12A2,2 0 0,1 6,14A2,2 0 0,1 4,12Z"/></svg>
<svg style="position:absolute;left:83.50px;top:366.80px" width="8.8" height="8.8" viewBox="0 0 20 20"><circle cx="10" cy="10" r="10" fill="#ec3b40"/><rect x="4.6" y="8.1" width="10.8" height="3.8" rx="1" fill="#fde3e3"/></svg><svg style="position:absolute;left:98.70px;top:364.30px" width="13.8" height="13.8" viewBox="0 0 14 14"><rect width="14" height="14" rx="3.2" fill="#fef0c7"/><g stroke="#c4580e" stroke-width="1.05" stroke-linecap="round" fill="none"><path d="M3.8,3.6L4.7,4.5M6.9,2.6V3.7M10.1,3.7L9.4,4.5M2.7,6.5H3.8M3.7,9.5L4.6,8.7"/></g><path fill="#b4470a" d="M6.7,6.6L11.5,8.6L9.6,9.4L11.4,11.2L10.8,11.8L9,10L8.3,11.9Z"/></svg><span class="t" style="left:118.75px;top:361px;line-height:20px;height:20px;font-size:10.98px;font-weight:400;color:#485264;letter-spacing:0.002px;">Release Run 1.0</span><span class="t" style="left:206.75px;top:362px;line-height:18px;height:18px;font-size:9.14px;font-weight:400;color:#515b6a;letter-spacing:0.000px;">from</span><span class="t" style="left:227.50px;top:362px;line-height:18px;height:18px;font-size:8.51px;font-weight:700;color:#485264;letter-spacing:0.007px;">plan one</span><span class="t" style="left:274.25px;top:362px;line-height:18px;height:18px;font-size:8.93px;font-weight:400;color:#78808e;letter-spacing:0.000px;">29 tests</span><div style="position:absolute;left:747.00px;top:365.30px;width:28.20px;height:11.40px;box-sizing:border-box;background:#a7f3d0;border-radius:6px;"><span style="position:absolute;left:0;right:0;top:-4.3px;line-height:20px;text-align:center;font-size:9.3px;font-weight:700;color:#059669;">21</span></div><div style="position:absolute;left:777.90px;top:365.30px;width:28.20px;height:11.40px;box-sizing:border-box;background:#fecaca;border-radius:6px;"><span style="position:absolute;left:0;right:0;top:-4.3px;line-height:20px;text-align:center;font-size:9.3px;font-weight:700;color:#ef4444;">6</span></div><div style="position:absolute;left:808.80px;top:365.30px;width:28.20px;height:11.40px;box-sizing:border-box;background:#fde68a;border-radius:6px;"><span style="position:absolute;left:0;right:0;top:-4.3px;line-height:20px;text-align:center;font-size:9.3px;font-weight:700;color:#f59e0b;">2</span></div><svg style="position:absolute;left:991.30px;top:364.80px" width="14.40" height="14.40" viewBox="0 0 24 24"><circle cx="12" cy="12" r="12.00" fill="#141414" /><path fill="#fff" d="M5.4,5.6H14.3V19.8H10.7V8.4H5.4Z"/><path fill="#7da7f5" d="M14.8,5.6H16.7V12.4H14.8Z"/><path fill="#fff" d="M17.4,5.6H18.8V8.8H17.4Z"/></svg><span class="t" style="left:1156.70px;top:362px;line-height:18px;height:18px;font-size:8.81px;font-weight:400;color:#78808e;letter-spacing:0.008px;">Jul 15, 2025 5:49 PM</span><div style="position:absolute;left:1245.50px;top:361.30px;width:19.80px;height:19.30px;box-sizing:border-box;background:#f9fafb;border:1px solid #e4e6ea;border-radius:5px;box-shadow:0 1px 2.5px rgba(0,0,0,.09),0 1px 1.5px rgba(0,0,0,.04);"></div><svg style="position:absolute;left:1249.60px;top:365.25px;" width="11.70" height="11.70" viewBox="0 0 24 24"><path fill="#16191f" d="M16,12A2,2 0 0,1 18,10A2,2 0 0,1 20,12A2,2 0 0,1 18,14A2,2 0 0,1 16,12M10,12A2,2 0 0,1 12,10A2,2 0 0,1 14,12A2,2 0 0,1 12,14A2,2 0 0,1 10,12M4,12A2,2 0 0,1 6,10A2,2 0 0,1 8,12A2,2 0 0,1 6,14A2,2 0 0,1 4,12Z"/></svg>
<svg style="position:absolute;left:83.50px;top:397.80px" width="8.8" height="8.8" viewBox="0 0 24 24"><circle cx="12" cy="12" r="12" fill="#747c8e"/><path d="M13.6,12.4L5,7.2A8.6,8.6 0 0,0 8.2,19.6Z" fill="#f1f2f5"/><path d="M13.6,12.4L5,7.2A8.6,8.6 0 0,1 13.6,3.8Z" fill="#aeb4c0"/></svg><svg style="position:absolute;left:98.70px;top:395.30px" width="13.8" height="13.8" viewBox="0 0 14 14"><rect width="14" height="14" rx="3.2" fill="#fef0c7"/><g stroke="#c4580e" stroke-width="1.05" stroke-linecap="round" fill="none"><path d="M3.8,3.6L4.7,4.5M6.9,2.6V3.7M10.1,3.7L9.4,4.5M2.7,6.5H3.8M3.7,9.5L4.6,8.7"/></g><path fill="#b4470a" d="M6.7,6.6L11.5,8.6L9.6,9.4L11.4,11.2L10.8,11.8L9,10L8.3,11.9Z"/></svg><span class="t" style="left:118.75px;top:391px;line-height:22px;height:22px;font-size:11.90px;font-weight:400;color:#485264;letter-spacing:0.005px;">Manual tests at 28 Mar 2025 09:33 Copy</span><span class="t" style="left:345.75px;top:393px;line-height:18px;height:18px;font-size:8.56px;font-weight:400;color:#78808e;letter-spacing:-0.098px;">61 tests</span><div style="position:absolute;left:747.00px;top:398.50px;width:90.20px;height:7.00px;box-sizing:border-box;background:#e5e7eb;border-radius:4px;"><span style="position:absolute;left:0;right:0;top:-6.8px;line-height:20px;text-align:center;font-size:9.3px;font-weight:400;color:#3a59d9;-webkit-text-stroke-width:.25px;">0%</span></div><svg style="position:absolute;left:991.30px;top:395.80px" width="14.40" height="14.40" viewBox="0 0 24 24"><circle cx="12" cy="12" r="11.40" fill="#fff" stroke="#141414" stroke-width="1.25"/><path fill="#1c1c1c" d="M5.4,5.6H14.3V19.8H10.7V8.4H5.4Z"/><path fill="#7da7f5" d="M14.8,5.6H16.7V12.4H14.8Z"/><path fill="#1c1c1c" d="M17.4,5.6H18.8V8.8H17.4Z"/></svg>
<svg style="position:absolute;left:83.50px;top:428.80px" width="8.8" height="8.8" viewBox="0 0 24 24"><circle cx="12" cy="12" r="12" fill="#747c8e"/><path d="M13.6,12.4L5,7.2A8.6,8.6 0 0,0 8.2,19.6Z" fill="#f1f2f5"/><path d="M13.6,12.4L5,7.2A8.6,8.6 0 0,1 13.6,3.8Z" fill="#aeb4c0"/></svg><svg style="position:absolute;left:98.70px;top:426.30px" width="13.8" height="13.8" viewBox="0 0 14 14"><rect width="14" height="14" rx="3.2" fill="#fef0c7"/><g stroke="#c4580e" stroke-width="1.05" stroke-linecap="round" fill="none"><path d="M3.8,3.6L4.7,4.5M6.9,2.6V3.7M10.1,3.7L9.4,4.5M2.7,6.5H3.8M3.7,9.5L4.6,8.7"/></g><path fill="#b4470a" d="M6.7,6.6L11.5,8.6L9.6,9.4L11.4,11.2L10.8,11.8L9,10L8.3,11.9Z"/></svg><span class="t" style="left:118.75px;top:423px;line-height:20px;height:20px;font-size:11.48px;font-weight:400;color:#485264;letter-spacing:0.004px;">Smoke run</span><span class="t" style="left:180.50px;top:424px;line-height:18px;height:18px;font-size:9.14px;font-weight:400;color:#515b6a;letter-spacing:0.000px;">from</span><span class="t" style="left:201.75px;top:424px;line-height:18px;height:18px;font-size:8.49px;font-weight:700;color:#485264;letter-spacing:0.004px;">plan 123</span><span class="t" style="left:247.50px;top:424px;line-height:18px;height:18px;font-size:8.56px;font-weight:400;color:#78808e;letter-spacing:-0.062px;">15 tests</span><div style="position:absolute;left:747.00px;top:429.50px;width:90.20px;height:7.00px;box-sizing:border-box;background:#e5e7eb;border-radius:4px;"><span style="position:absolute;left:0;right:0;top:-6.8px;line-height:20px;text-align:center;font-size:9.3px;font-weight:400;color:#3a59d9;-webkit-text-stroke-width:.25px;">0%</span></div><svg style="position:absolute;left:991.30px;top:426.80px" width="14.40" height="14.40" viewBox="0 0 24 24"><circle cx="12" cy="12" r="11.40" fill="#fff" stroke="#141414" stroke-width="1.25"/><path fill="#1c1c1c" d="M5.4,5.6H14.3V19.8H10.7V8.4H5.4Z"/><path fill="#7da7f5" d="M14.8,5.6H16.7V12.4H14.8Z"/><path fill="#1c1c1c" d="M17.4,5.6H18.8V8.8H17.4Z"/></svg>
<svg style="position:absolute;left:79.90px;top:457.30px;" width="15.40" height="15.40" viewBox="0 0 24 24"><path fill="#15181e" d="M8.59,16.58L13.17,12L8.59,7.41L10,6L16,12L10,18L8.59,16.58Z"/></svg><svg style="position:absolute;left:99.60px;top:456.90px;" width="14.80" height="14.80" viewBox="0 0 24 24"><path fill="#323c50" d="M10,4H4C2.89,4 2,4.89 2,6V18A2,2 0 0,0 4,20H20A2,2 0 0,0 22,18V8C22,6.89 21.1,6 20,6H12L10,4Z"/></svg><span class="t" style="left:120.00px;top:454px;line-height:20px;height:20px;font-size:11.10px;font-weight:400;color:#485264;letter-spacing:-0.001px;">Build: Version 7.15</span><span class="t" style="left:224.25px;top:455px;line-height:18px;height:18px;font-size:9.00px;font-weight:400;color:#78808e;letter-spacing:-0.004px;">69 tests</span><span class="t" style="left:262.50px;top:455px;line-height:18px;height:18px;font-size:8.73px;font-weight:400;color:#78808e;letter-spacing:0.003px;">3 runs</span><div style="position:absolute;left:747.00px;top:458.30px;width:28.20px;height:11.40px;box-sizing:border-box;background:#a7f3d0;border-radius:6px;"><span style="position:absolute;left:0;right:0;top:-4.3px;line-height:20px;text-align:center;font-size:9.3px;font-weight:700;color:#059669;">45</span></div><div style="position:absolute;left:777.90px;top:458.30px;width:28.20px;height:11.40px;box-sizing:border-box;background:#fecaca;border-radius:6px;"><span style="position:absolute;left:0;right:0;top:-4.3px;line-height:20px;text-align:center;font-size:9.3px;font-weight:700;color:#ef4444;">24</span></div><div style="position:absolute;left:808.80px;top:458.30px;width:28.20px;height:11.40px;box-sizing:border-box;background:#fde68a;border-radius:6px;opacity:.42;"><span style="position:absolute;left:0;right:0;top:-4.3px;line-height:20px;text-align:center;font-size:9.3px;font-weight:700;color:#f59e0b;">0</span></div>
<svg style="position:absolute;left:79.90px;top:488.30px;" width="15.40" height="15.40" viewBox="0 0 24 24"><path fill="#15181e" d="M8.59,16.58L13.17,12L8.59,7.41L10,6L16,12L10,18L8.59,16.58Z"/></svg><svg style="position:absolute;left:99.60px;top:487.90px;" width="14.80" height="14.80" viewBox="0 0 24 24"><path fill="#323c50" d="M10,4H4C2.89,4 2,4.89 2,6V18A2,2 0 0,0 4,20H20A2,2 0 0,0 22,18V8C22,6.89 21.1,6 20,6H12L10,4Z"/></svg><span class="t" style="left:120.00px;top:485px;line-height:20px;height:20px;font-size:11.30px;font-weight:400;color:#485264;letter-spacing:0.001px;">Build: Version 7.15 Copy</span><span class="t" style="left:255.50px;top:486px;line-height:18px;height:18px;font-size:8.56px;font-weight:400;color:#78808e;letter-spacing:-0.062px;">18 tests</span><span class="t" style="left:291.25px;top:486px;line-height:18px;height:18px;font-size:8.82px;font-weight:400;color:#78808e;letter-spacing:0.000px;">2 runs</span><div style="position:absolute;left:747.00px;top:489.30px;width:28.20px;height:11.40px;box-sizing:border-box;background:#a7f3d0;border-radius:6px;opacity:.42;"><span style="position:absolute;left:0;right:0;top:-4.3px;line-height:20px;text-align:center;font-size:9.3px;font-weight:700;color:#059669;">0</span></div><div style="position:absolute;left:777.90px;top:489.30px;width:28.20px;height:11.40px;box-sizing:border-box;background:#fecaca;border-radius:6px;opacity:.42;"><span style="position:absolute;left:0;right:0;top:-4.3px;line-height:20px;text-align:center;font-size:9.3px;font-weight:700;color:#ef4444;">0</span></div><div style="position:absolute;left:808.80px;top:489.30px;width:28.20px;height:11.40px;box-sizing:border-box;background:#fde68a;border-radius:6px;"><span style="position:absolute;left:0;right:0;top:-4.3px;line-height:20px;text-align:center;font-size:9.3px;font-weight:700;color:#f59e0b;">18</span></div>
<svg style="position:absolute;left:83.50px;top:521.80px" width="8.8" height="8.8" viewBox="0 0 20 20"><circle cx="10" cy="10" r="10" fill="#ec3b40"/><rect x="4.6" y="8.1" width="10.8" height="3.8" rx="1" fill="#fde3e3"/></svg><svg style="position:absolute;left:98.70px;top:519.30px" width="13.8" height="13.8" viewBox="0 0 14 14"><rect width="14" height="14" rx="3.2" fill="#fef0c7"/><g stroke="#c4580e" stroke-width="1.05" stroke-linecap="round" fill="none"><path d="M3.8,3.6L4.7,4.5M6.9,2.6V3.7M10.1,3.7L9.4,4.5M2.7,6.5H3.8M3.7,9.5L4.6,8.7"/></g><path fill="#b4470a" d="M6.7,6.6L11.5,8.6L9.6,9.4L11.4,11.2L10.8,11.8L9,10L8.3,11.9Z"/></svg><span class="t" style="left:118.75px;top:515px;line-height:21px;height:21px;font-size:11.76px;font-weight:400;color:#485264;letter-spacing:0.004px;">LMP-587 Implement Real-Time Chat Messaging (Core Functionality)</span><span class="t" style="left:488.00px;top:517px;line-height:18px;height:18px;font-size:8.56px;font-weight:400;color:#78808e;letter-spacing:-0.062px;">21 tests</span><div style="position:absolute;left:747.00px;top:520.30px;width:28.20px;height:11.40px;box-sizing:border-box;background:#a7f3d0;border-radius:6px;"><span style="position:absolute;left:0;right:0;top:-4.3px;line-height:20px;text-align:center;font-size:9.3px;font-weight:700;color:#059669;">8</span></div><div style="position:absolute;left:777.90px;top:520.30px;width:28.20px;height:11.40px;box-sizing:border-box;background:#fecaca;border-radius:6px;"><span style="position:absolute;left:0;right:0;top:-4.3px;line-height:20px;text-align:center;font-size:9.3px;font-weight:700;color:#ef4444;">9</span></div><div style="position:absolute;left:808.80px;top:520.30px;width:28.20px;height:11.40px;box-sizing:border-box;background:#fde68a;border-radius:6px;"><span style="position:absolute;left:0;right:0;top:-4.3px;line-height:20px;text-align:center;font-size:9.3px;font-weight:700;color:#f59e0b;">4</span></div><svg style="position:absolute;left:991.30px;top:519.80px" width="14.40" height="14.40" viewBox="0 0 24 24"><circle cx="12" cy="12" r="12.00" fill="#141414" /><path fill="#fff" d="M5.4,5.6H14.3V19.8H10.7V8.4H5.4Z"/><path fill="#7da7f5" d="M14.8,5.6H16.7V12.4H14.8Z"/><path fill="#fff" d="M17.4,5.6H18.8V8.8H17.4Z"/></svg>
<svg style="position:absolute;left:83.50px;top:552.80px" width="8.8" height="8.8" viewBox="0 0 20 20"><circle cx="10" cy="10" r="10" fill="#ec3b40"/><rect x="4.6" y="8.1" width="10.8" height="3.8" rx="1" fill="#fde3e3"/></svg><svg style="position:absolute;left:98.70px;top:550.30px" width="13.8" height="13.8" viewBox="0 0 14 14"><rect width="14" height="14" rx="3.2" fill="#f4f1ff"/><g stroke="#7a3ce8" stroke-width="1.15" fill="none" stroke-linecap="round"><path d="M11.3,5.8A4.4,4.4 0 1,0 6.2,11.1"/><path d="M9.2,6A2.3,2.3 0 1,0 6.3,9"/></g><path fill="#5b21d6" d="M7.1,6.8L11.7,8.6L9.9,9.4L11.7,11.2L11.1,11.8L9.3,10L8.6,11.8Z"/></svg><span class="t" style="left:118.75px;top:546px;line-height:22px;height:22px;font-size:11.80px;font-weight:400;color:#485264;letter-spacing:0.001px;">Automated tests at 03 Jul 2025 13:25</span><span class="t" style="left:320.50px;top:548px;line-height:18px;height:18px;font-size:9.14px;font-weight:400;color:#515b6a;letter-spacing:0.000px;">from</span><span class="t" style="left:341.75px;top:548px;line-height:18px;height:18px;font-size:8.37px;font-weight:700;color:#485264;letter-spacing:-0.094px;">plan 12</span><div style="position:absolute;left:382.00px;top:550.40px;width:39.75px;height:13.30px;box-sizing:border-box;background:#e7e9ed;border-radius:7px;"></div><svg style="position:absolute;left:387.30px;top:551.60px;" width="11.20" height="11.20" viewBox="0 0 24 24"><path fill="#3a4352" d="M12,15.5A3.5,3.5 0 0,1 8.5,12A3.5,3.5 0 0,1 12,8.5A3.5,3.5 0 0,1 15.5,12A3.5,3.5 0 0,1 12,15.5M19.43,12.97C19.47,12.65 19.5,12.33 19.5,12C19.5,11.67 19.47,11.34 19.43,11L21.54,9.37C21.73,9.22 21.78,8.95 21.66,8.73L19.66,5.27C19.54,5.05 19.27,4.96 19.05,5.05L16.56,6.05C16.04,5.66 15.5,5.32 14.87,5.07L14.5,2.42C14.46,2.18 14.25,2 14,2H10C9.75,2 9.54,2.18 9.5,2.42L9.13,5.07C8.5,5.32 7.96,5.66 7.44,6.05L4.95,5.05C4.73,4.96 4.46,5.05 4.34,5.27L2.34,8.73C2.21,8.95 2.27,9.22 2.46,9.37L4.57,11C4.53,11.34 4.5,11.67 4.5,12C4.5,12.33 4.53,12.65 4.57,12.97L2.46,14.63C2.27,14.78 2.21,15.05 2.34,15.27L4.34,18.73C4.46,18.95 4.73,19.03 4.95,18.95L7.44,17.94C7.96,18.34 8.5,18.68 9.13,18.93L9.5,21.58C9.54,21.82 9.75,22 10,22H14C14.25,22 14.46,21.82 14.5,21.58L14.87,18.93C15.5,18.67 16.04,18.34 16.56,17.94L19.05,18.95C19.27,19.03 19.54,18.95 19.66,18.73L21.66,15.27C21.78,15.05 21.73,14.78 21.54,14.63L19.43,12.97Z"/></svg><span class="t" style="left:401.25px;top:548px;line-height:18px;height:18px;font-size:9.22px;font-weight:400;color:#4b5563;letter-spacing:-0.003px;">test</span><span class="t" style="left:427.50px;top:548px;line-height:18px;height:18px;font-size:8.56px;font-weight:400;color:#78808e;letter-spacing:-0.062px;">18 tests</span><div style="position:absolute;left:747.00px;top:551.30px;width:28.20px;height:11.40px;box-sizing:border-box;background:#a7f3d0;border-radius:6px;"><span style="position:absolute;left:0;right:0;top:-4.3px;line-height:20px;text-align:center;font-size:9.3px;font-weight:700;color:#059669;">10</span></div><div style="position:absolute;left:777.90px;top:551.30px;width:28.20px;height:11.40px;box-sizing:border-box;background:#fecaca;border-radius:6px;"><span style="position:absolute;left:0;right:0;top:-4.3px;line-height:20px;text-align:center;font-size:9.3px;font-weight:700;color:#ef4444;">8</span></div><div style="position:absolute;left:808.80px;top:551.30px;width:28.20px;height:11.40px;box-sizing:border-box;background:#fde68a;border-radius:6px;opacity:.42;"><span style="position:absolute;left:0;right:0;top:-4.3px;line-height:20px;text-align:center;font-size:9.3px;font-weight:700;color:#f59e0b;">0</span></div>
<svg style="position:absolute;left:83.50px;top:583.80px" width="8.8" height="8.8" viewBox="0 0 24 24"><circle cx="12" cy="12" r="12" fill="#747c8e"/><path d="M13.6,12.4L5,7.2A8.6,8.6 0 0,0 8.2,19.6Z" fill="#f1f2f5"/><path d="M13.6,12.4L5,7.2A8.6,8.6 0 0,1 13.6,3.8Z" fill="#aeb4c0"/></svg><svg style="position:absolute;left:98.70px;top:581.30px" width="13.8" height="13.8" viewBox="0 0 14 14"><rect width="14" height="14" rx="3.2" fill="#fef0c7"/><g stroke="#c4580e" stroke-width="1.05" stroke-linecap="round" fill="none"><path d="M3.8,3.6L4.7,4.5M6.9,2.6V3.7M10.1,3.7L9.4,4.5M2.7,6.5H3.8M3.7,9.5L4.6,8.7"/></g><path fill="#b4470a" d="M6.7,6.6L11.5,8.6L9.6,9.4L11.4,11.2L10.8,11.8L9,10L8.3,11.9Z"/></svg><span class="t" style="left:118.75px;top:577px;line-height:22px;height:22px;font-size:11.82px;font-weight:400;color:#485264;letter-spacing:0.003px;">Manual tests at 28 Mar 2025 09:33 (Relaunch)</span><span class="t" style="left:375.00px;top:579px;line-height:18px;height:18px;font-size:8.92px;font-weight:400;color:#78808e;letter-spacing:0.000px;">4 tests</span><div style="position:absolute;left:747.00px;top:584.50px;width:90.20px;height:7.00px;box-sizing:border-box;background:#e5e7eb;border-radius:4px;"><span style="position:absolute;left:0;right:0;top:-6.8px;line-height:20px;text-align:center;font-size:9.3px;font-weight:400;color:#3a59d9;-webkit-text-stroke-width:.25px;">0%</span></div><svg style="position:absolute;left:991.30px;top:581.80px" width="14.40" height="14.40" viewBox="0 0 24 24"><circle cx="12" cy="12" r="12.00" fill="#141414" /><path fill="#fff" d="M5.4,5.6H14.3V19.8H10.7V8.4H5.4Z"/><path fill="#7da7f5" d="M14.8,5.6H16.7V12.4H14.8Z"/><path fill="#fff" d="M17.4,5.6H18.8V8.8H17.4Z"/></svg>
<svg style="position:absolute;left:83.50px;top:614.80px" width="8.8" height="8.8" viewBox="0 0 24 24"><circle cx="12" cy="12" r="12" fill="#747c8e"/><path d="M13.6,12.4L5,7.2A8.6,8.6 0 0,0 8.2,19.6Z" fill="#f1f2f5"/><path d="M13.6,12.4L5,7.2A8.6,8.6 0 0,1 13.6,3.8Z" fill="#aeb4c0"/></svg><svg style="position:absolute;left:98.70px;top:612.30px" width="13.8" height="13.8" viewBox="0 0 14 14"><rect width="14" height="14" rx="3.2" fill="#fef0c7"/><g stroke="#c4580e" stroke-width="1.05" stroke-linecap="round" fill="none"><path d="M3.8,3.6L4.7,4.5M6.9,2.6V3.7M10.1,3.7L9.4,4.5M2.7,6.5H3.8M3.7,9.5L4.6,8.7"/></g><path fill="#b4470a" d="M6.7,6.6L11.5,8.6L9.6,9.4L11.4,11.2L10.8,11.8L9,10L8.3,11.9Z"/></svg><span class="t" style="left:118.75px;top:608px;line-height:21px;height:21px;font-size:11.79px;font-weight:400;color:#485264;letter-spacing:0.005px;">Manual tests at 03 Jul 2025 12:08</span><span class="t" style="left:302.00px;top:610px;line-height:18px;height:18px;font-size:9.01px;font-weight:400;color:#515b6a;letter-spacing:0.000px;">from</span><span class="t" style="left:323.00px;top:610px;line-height:18px;height:18px;font-size:8.61px;font-weight:700;color:#485264;letter-spacing:0.010px;">Custom Selection</span><span class="t" style="left:407.50px;top:610px;line-height:18px;height:18px;font-size:9.14px;font-weight:400;color:#78808e;letter-spacing:0.000px;">3/3 tests</span><div style="position:absolute;left:747.00px;top:615.50px;width:90.20px;height:7.00px;box-sizing:border-box;background:#93c5fd;border-radius:4px;"><span style="position:absolute;left:0;right:0;top:-6.8px;line-height:20px;text-align:center;font-size:9.3px;font-weight:400;color:#3a59d9;-webkit-text-stroke-width:.25px;">100%</span></div><svg style="position:absolute;left:991.30px;top:612.80px" width="14.40" height="14.40" viewBox="0 0 24 24"><circle cx="12" cy="12" r="11.40" fill="#fff" stroke="#141414" stroke-width="1.25"/><path fill="#1c1c1c" d="M5.4,5.6H14.3V19.8H10.7V8.4H5.4Z"/><path fill="#7da7f5" d="M14.8,5.6H16.7V12.4H14.8Z"/><path fill="#1c1c1c" d="M17.4,5.6H18.8V8.8H17.4Z"/></svg>
<svg style="position:absolute;left:83.50px;top:645.80px" width="8.8" height="8.8" viewBox="0 0 20 20"><circle cx="10" cy="10" r="10" fill="#ec3b40"/><rect x="4.6" y="8.1" width="10.8" height="3.8" rx="1" fill="#fde3e3"/></svg><svg style="position:absolute;left:98.70px;top:643.30px" width="13.8" height="13.8" viewBox="0 0 14 14"><rect width="14" height="14" rx="3.2" fill="#fef0c7"/><g stroke="#c4580e" stroke-width="1.05" stroke-linecap="round" fill="none"><path d="M3.8,3.6L4.7,4.5M6.9,2.6V3.7M10.1,3.7L9.4,4.5M2.7,6.5H3.8M3.7,9.5L4.6,8.7"/></g><path fill="#b4470a" d="M6.7,6.6L11.5,8.6L9.6,9.4L11.4,11.2L10.8,11.8L9,10L8.3,11.9Z"/></svg><span class="t" style="left:118.75px;top:639px;line-height:22px;height:22px;font-size:11.82px;font-weight:400;color:#485264;letter-spacing:0.003px;">Manual tests at 28 Mar 2025 09:33 (Relaunch)</span><span class="t" style="left:375.00px;top:641px;line-height:18px;height:18px;font-size:8.92px;font-weight:400;color:#78808e;letter-spacing:0.000px;">4 tests</span><div style="position:absolute;left:747.00px;top:644.30px;width:28.20px;height:11.40px;box-sizing:border-box;background:#a7f3d0;border-radius:6px;"><span style="position:absolute;left:0;right:0;top:-4.3px;line-height:20px;text-align:center;font-size:9.3px;font-weight:700;color:#059669;">3</span></div><div style="position:absolute;left:777.90px;top:644.30px;width:28.20px;height:11.40px;box-sizing:border-box;background:#fecaca;border-radius:6px;"><span style="position:absolute;left:0;right:0;top:-4.3px;line-height:20px;text-align:center;font-size:9.3px;font-weight:700;color:#ef4444;">1</span></div><div style="position:absolute;left:808.80px;top:644.30px;width:28.20px;height:11.40px;box-sizing:border-box;background:#fde68a;border-radius:6px;opacity:.42;"><span style="position:absolute;left:0;right:0;top:-4.3px;line-height:20px;text-align:center;font-size:9.3px;font-weight:700;color:#f59e0b;">0</span></div><svg style="position:absolute;left:991.30px;top:643.80px" width="14.40" height="14.40" viewBox="0 0 24 24"><circle cx="12" cy="12" r="12.00" fill="#141414" /><path fill="#fff" d="M5.4,5.6H14.3V19.8H10.7V8.4H5.4Z"/><path fill="#7da7f5" d="M14.8,5.6H16.7V12.4H14.8Z"/><path fill="#fff" d="M17.4,5.6H18.8V8.8H17.4Z"/></svg>
<svg style="position:absolute;left:83.50px;top:677.30px" width="8.8" height="8.8" viewBox="0 0 20 20"><circle cx="10" cy="10" r="10" fill="#ec3b40"/><rect x="4.6" y="8.1" width="10.8" height="3.8" rx="1" fill="#fde3e3"/></svg><svg style="position:absolute;left:98.70px;top:674.80px" width="13.8" height="13.8" viewBox="0 0 14 14"><rect width="14" height="14" rx="3.2" fill="#dbeafd"/><g stroke="#1d5ea8" stroke-width="1.15" fill="none" stroke-linecap="butt"><path d="M2.1,4.5H6.4"/><path d="M12.2,9.4H7.9"/><path d="M7.6,2.5A4.6,4.6 0 0,1 11.5,6.3" stroke-dasharray="1.5 .8"/><path d="M6.6,11.4A4.6,4.6 0 0,1 2.5,7.6" stroke-dasharray="1.5 .8"/></g><path fill="#1d5ea8" d="M5.2,2.6L7.9,4.5L5.2,6.4Z M9.1,7.5L6.4,9.4L9.1,11.3Z"/></svg><span class="t" style="left:118.75px;top:671px;line-height:21px;height:21px;font-size:11.77px;font-weight:400;color:#485264;letter-spacing:-0.002px;">Manual &amp; automated tests at 27 Jun 2025 05:52 (Relaunch)</span><div style="position:absolute;left:441.75px;top:674.90px;width:39.50px;height:13.30px;box-sizing:border-box;background:#e7e9ed;border-radius:7px;"></div><svg style="position:absolute;left:447.05px;top:676.10px;" width="11.20" height="11.20" viewBox="0 0 24 24"><path fill="#3a4352" d="M12,15.5A3.5,3.5 0 0,1 8.5,12A3.5,3.5 0 0,1 12,8.5A3.5,3.5 0 0,1 15.5,12A3.5,3.5 0 0,1 12,15.5M19.43,12.97C19.47,12.65 19.5,12.33 19.5,12C19.5,11.67 19.47,11.34 19.43,11L21.54,9.37C21.73,9.22 21.78,8.95 21.66,8.73L19.66,5.27C19.54,5.05 19.27,4.96 19.05,5.05L16.56,6.05C16.04,5.66 15.5,5.32 14.87,5.07L14.5,2.42C14.46,2.18 14.25,2 14,2H10C9.75,2 9.54,2.18 9.5,2.42L9.13,5.07C8.5,5.32 7.96,5.66 7.44,6.05L4.95,5.05C4.73,4.96 4.46,5.05 4.34,5.27L2.34,8.73C2.21,8.95 2.27,9.22 2.46,9.37L4.57,11C4.53,11.34 4.5,11.67 4.5,12C4.5,12.33 4.53,12.65 4.57,12.97L2.46,14.63C2.27,14.78 2.21,15.05 2.34,15.27L4.34,18.73C4.46,18.95 4.73,19.03 4.95,18.95L7.44,17.94C7.96,18.34 8.5,18.68 9.13,18.93L9.5,21.58C9.54,21.82 9.75,22 10,22H14C14.25,22 14.46,21.82 14.5,21.58L14.87,18.93C15.5,18.67 16.04,18.34 16.56,17.94L19.05,18.95C19.27,19.03 19.54,18.95 19.66,18.73L21.66,15.27C21.78,15.05 21.73,14.78 21.54,14.63L19.43,12.97Z"/></svg><span class="t" style="left:461.00px;top:673px;line-height:18px;height:18px;font-size:9.22px;font-weight:400;color:#4b5563;letter-spacing:-0.003px;">test</span><span class="t" style="left:487.50px;top:673px;line-height:18px;height:18px;font-size:8.92px;font-weight:400;color:#78808e;letter-spacing:0.000px;">4 tests</span><div style="position:absolute;left:747.00px;top:675.80px;width:28.20px;height:11.40px;box-sizing:border-box;background:#a7f3d0;border-radius:6px;"><span style="position:absolute;left:0;right:0;top:-4.3px;line-height:20px;text-align:center;font-size:9.3px;font-weight:700;color:#059669;">2</span></div><div style="position:absolute;left:777.90px;top:675.80px;width:28.20px;height:11.40px;box-sizing:border-box;background:#fecaca;border-radius:6px;"><span style="position:absolute;left:0;right:0;top:-4.3px;line-height:20px;text-align:center;font-size:9.3px;font-weight:700;color:#ef4444;">2</span></div><div style="position:absolute;left:808.80px;top:675.80px;width:28.20px;height:11.40px;box-sizing:border-box;background:#fde68a;border-radius:6px;opacity:.42;"><span style="position:absolute;left:0;right:0;top:-4.3px;line-height:20px;text-align:center;font-size:9.3px;font-weight:700;color:#f59e0b;">0</span></div><svg style="position:absolute;left:991.30px;top:675.30px" width="14.40" height="14.40" viewBox="0 0 24 24"><circle cx="12" cy="12" r="11.40" fill="#fff" stroke="#141414" stroke-width="1.25"/><path fill="#1c1c1c" d="M5.4,5.6H14.3V19.8H10.7V8.4H5.4Z"/><path fill="#7da7f5" d="M14.8,5.6H16.7V12.4H14.8Z"/><path fill="#1c1c1c" d="M17.4,5.6H18.8V8.8H17.4Z"/></svg><span class="t" style="left:1159.60px;top:673px;line-height:18px;height:18px;font-size:9.09px;font-weight:400;color:#78808e;letter-spacing:0.008px;">Jul 3, 2025 9:53 AM</span><div style="position:absolute;left:1245.50px;top:671.80px;width:19.80px;height:19.30px;box-sizing:border-box;background:#f9fafb;border:1px solid #e4e6ea;border-radius:5px;box-shadow:0 1px 2.5px rgba(0,0,0,.09),0 1px 1.5px rgba(0,0,0,.04);"></div><svg style="position:absolute;left:1249.60px;top:675.75px;" width="11.70" height="11.70" viewBox="0 0 24 24"><path fill="#16191f" d="M16,12A2,2 0 0,1 18,10A2,2 0 0,1 20,12A2,2 0 0,1 18,14A2,2 0 0,1 16,12M10,12A2,2 0 0,1 12,10A2,2 0 0,1 14,12A2,2 0 0,1 12,14A2,2 0 0,1 10,12M4,12A2,2 0 0,1 6,10A2,2 0 0,1 8,12A2,2 0 0,1 6,14A2,2 0 0,1 4,12Z"/></svg>
<div style="position:absolute;left:1249.40px;top:701.80px;width:12.00px;height:1.00px;box-sizing:border-box;background:#eff0f2;"></div>
<div style="position:absolute;left:1085.50px;top:386.90px;width:179.80px;height:272.90px;box-sizing:border-box;background:#fff;border-radius:5px;box-shadow:0 8px 14px -3px rgba(0,0,0,.12),0 3px 6px -2px rgba(0,0,0,.09),0 0 0 .5px rgba(0,0,0,.03);"></div>
<svg style="position:absolute;left:1096.80px;top:398.00px;" width="14.20" height="14.20" viewBox="0 0 24 24"><path fill="#273142" d="M18.4,10.6C16.55,9 14.15,8 11.5,8C6.85,8 2.92,11.03 1.54,15.22L3.9,16C4.95,12.81 7.95,10.5 11.5,10.5C13.45,10.5 15.23,11.22 16.62,12.38L13,16H22V7L18.4,10.6Z"/></svg>
<span class="t" style="left:1119.00px;top:396px;line-height:19px;height:19px;font-size:10.19px;font-weight:400;color:#485264;letter-spacing:0.002px;">Relaunch</span>
<svg style="position:absolute;left:1096.80px;top:424.20px;" width="14.20" height="14.20" viewBox="0 0 24 24"><path fill="#273142" d="M12,20C7.59,20 4,16.41 4,12C4,7.59 7.59,4 12,4C16.41,4 20,7.59 20,12C20,16.41 16.41,20 12,20M12,2A10,10 0 0,0 2,12A10,10 0 0,0 12,22A10,10 0 0,0 22,12A10,10 0 0,0 12,2M10,16.5L16,12L10,7.5V16.5Z"/></svg>
<span class="t" style="left:1119.00px;top:422px;line-height:19px;height:19px;font-size:10.34px;font-weight:400;color:#485264;letter-spacing:0.003px;">Advanced Relaunch</span>
<svg style="position:absolute;left:1096.80px;top:450.50px;" width="14.20" height="14.20" viewBox="0 0 24 24"><path fill="#273142" d="M19,21H8V7H19M19,5H8A2,2 0 0,0 6,7V21A2,2 0 0,0 8,23H19A2,2 0 0,0 21,21V7A2,2 0 0,0 19,5M16,1H4A2,2 0 0,0 2,3V17H4V3H16V1Z"/></svg>
<span class="t" style="left:1119.00px;top:448px;line-height:19px;height:19px;font-size:10.37px;font-weight:400;color:#485264;letter-spacing:-0.000px;">Launch a Copy</span>
<svg style="position:absolute;left:1096.80px;top:476.60px;" width="14.20" height="14.20" viewBox="0 0 24 24"><path fill="#273142" d="M3,3H21V7H3V3M4,8H20V21H4V8M9.5,11A0.5,0.5 0 0,0 9,11.5V13H15V11.5A0.5,0.5 0 0,0 14.5,11H9.5Z"/></svg>
<span class="t" style="left:1119.00px;top:473px;line-height:20px;height:20px;font-size:10.65px;font-weight:400;color:#485264;letter-spacing:0.003px;">Archive</span>
<svg style="position:absolute;left:1096.80px;top:502.70px;" width="14.20" height="14.20" viewBox="0 0 24 24"><path fill="#273142" d="M16,12V4H17V2H7V4H8V12L6,14V16H11.2V22H12.8V16H18V14L16,12Z"/></svg>
<span class="t" style="left:1119.00px;top:500px;line-height:19px;height:19px;font-size:10.03px;font-weight:400;color:#485264;letter-spacing:0.008px;">Pin</span>
<svg style="position:absolute;left:1098.2px;top:530.10px" width="11.4" height="11.4" viewBox="0 0 22 22"><rect x="1" y="1" width="20" height="20" rx="2.5" fill="#273142"/><text x="11" y="14.4" text-anchor="middle" font-family="Liberation Sans, sans-serif" font-weight="700" font-size="8.4" fill="#fff">PDF</text></svg>
<span class="t" style="left:1119.00px;top:526px;line-height:19px;height:19px;font-size:10.08px;font-weight:400;color:#485264;letter-spacing:-0.003px;">Export as PDF</span>
<svg style="position:absolute;left:1096.80px;top:554.90px;" width="14.20" height="14.20" viewBox="0 0 24 24"><path fill="#273142" d="M4,11V13H16L10.5,18.5L11.92,19.92L19.84,12L11.92,4.08L10.5,5.5L16,11H4Z"/></svg>
<span class="t" style="left:1119.00px;top:551px;line-height:20px;height:20px;font-size:10.51px;font-weight:400;color:#485264;letter-spacing:0.004px;">Move</span>
<svg style="position:absolute;left:1096.80px;top:581.20px;" width="14.20" height="14.20" viewBox="0 0 24 24"><path fill="#273142" d="M21.4,11.6L12.4,2.6C12,2.2 11.5,2 11,2H4A2,2 0 0,0 2,4V11C2,11.5 2.2,12 2.6,12.4L11.6,21.4C12,21.8 12.5,22 13,22C13.5,22 14,21.8 14.4,21.4L21.4,14.4C21.8,14 22,13.5 22,13C22,12.5 21.8,12 21.4,11.6M13,20L4,11V4H11L20,13L13,20M6.5,5A1.5,1.5 0 0,1 8,6.5A1.5,1.5 0 0,1 6.5,8A1.5,1.5 0 0,1 5,6.5A1.5,1.5 0 0,1 6.5,5M10.1,8.9L11.2,7.8L16.2,12.8L15.1,13.9M8.2,10.8L9.3,9.7L13.1,13.5L12,14.6Z"/></svg>
<span class="t" style="left:1119.00px;top:579px;line-height:19px;height:19px;font-size:10.36px;font-weight:400;color:#485264;letter-spacing:-0.006px;">Labels</span>
<svg style="position:absolute;left:1096.80px;top:607.60px;" width="14.20" height="14.20" viewBox="0 0 24 24"><path fill="#273142" d="M19,13H13V19H11V13H5V11H11V5H13V11H19V13Z"/></svg>
<span class="t" style="left:1119.00px;top:605px;line-height:19px;height:19px;font-size:10.39px;font-weight:400;color:#485264;letter-spacing:0.004px;">Link to Issue</span>
<svg style="position:absolute;left:1096.80px;top:634.00px;" width="14.20" height="14.20" viewBox="0 0 24 24"><path fill="#e02424" d="M6,19A2,2 0 0,0 8,21H16A2,2 0 0,0 18,19V7H6V19M8,9H16V19H8V9M15.5,4L14.5,3H9.5L8.5,4H5V6H19V4H15.5Z"/></svg>
<span class="t" style="left:1119.00px;top:632px;line-height:19px;height:19px;font-size:10.31px;font-weight:400;color:#dc2626;letter-spacing:0.007px;">Delete</span>
<div style="position:absolute;left:1085.50px;top:575.20px;width:179.80px;height:1.00px;box-sizing:border-box;background:#f0f1f3;"></div>
<div style="position:absolute;left:1085.50px;top:627.80px;width:179.80px;height:1.00px;box-sizing:border-box;background:#f0f1f3;"></div>
<div style="position:absolute;left:71.00px;top:356.80px;width:277.70px;height:28.80px;box-sizing:border-box;border:2.2px solid #f8303f;filter:drop-shadow(0 1px 2px rgba(0,0,0,.18));"></div>
<div style="position:absolute;left:1239.20px;top:356.90px;width:31.80px;height:29.80px;box-sizing:border-box;border:2.8px solid #f8303f;filter:drop-shadow(0 1px 2px rgba(0,0,0,.18));"></div>
<div style="position:absolute;left:1083.70px;top:443.10px;width:134.20px;height:27.60px;box-sizing:border-box;border:2.2px solid #f8303f;filter:drop-shadow(0 1px 2px rgba(0,0,0,.18));"></div>
<svg style="position:absolute;left:355px;top:355px;filter:drop-shadow(0 1px 2px rgba(0,0,0,.18));" width="60" height="34" viewBox="355 355 60 34"><path d="M404.4,371.9H364 M372.4,363.2L363.5,371.9L372.4,380.6" fill="none" stroke="#f8303f" stroke-width="3.7" stroke-linecap="round" stroke-linejoin="round"/></svg>
<div style="position:absolute;left:410.90px;top:363.90px;width:16.00px;height:16.00px;box-sizing:border-box;background:#f8303f;border-radius:50%;filter:drop-shadow(0 1px 2px rgba(0,0,0,.18));"><span style="position:absolute;left:0;right:0;top:-2.2px;line-height:20px;text-align:center;font-size:11.5px;font-weight:700;color:#fff;">1</span></div>
<div style="position:absolute;left:1262.80px;top:377.10px;width:16.00px;height:16.00px;box-sizing:border-box;background:#f8303f;border-radius:50%;filter:drop-shadow(0 1px 2px rgba(0,0,0,.18));"><span style="position:absolute;left:0;right:0;top:-2.2px;line-height:20px;text-align:center;font-size:11.5px;font-weight:700;color:#fff;">2</span></div>
<div style="position:absolute;left:1207.30px;top:460.40px;width:16.00px;height:16.00px;box-sizing:border-box;background:#f8303f;border-radius:50%;filter:drop-shadow(0 1px 2px rgba(0,0,0,.18));"><span style="position:absolute;left:0;right:0;top:-2.2px;line-height:20px;text-align:center;font-size:11.5px;font-weight:700;color:#fff;">3</span></div>
<div style="position:absolute;left:56.00px;top:0.00px;width:1.00px;height:720.00px;box-sizing:border-box;background:rgba(55,48,163,.38);"></div>
</body></html>
